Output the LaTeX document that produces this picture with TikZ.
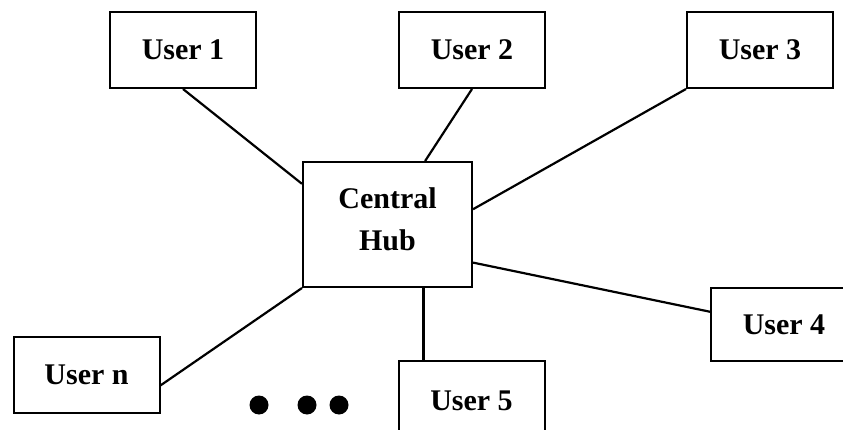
\documentclass[tikz,border=0pt]{standalone}
\usepackage{fontspec}
\setmainfont{Liberation Serif}
\usetikzlibrary{positioning, calc}

\tikzset{
  userbox/.style={draw, line width=2pt, minimum width=146pt, minimum height=76pt,
    font=\bfseries\fontsize{30}{36}\selectfont},
  hubbox/.style={draw, line width=2pt, minimum width=169pt, minimum height=125pt,
    align=center, font=\bfseries\fontsize{30}{42}\selectfont},
  link/.style={line width=2.2pt},
  ellipsisdot/.style={circle, fill=black, inner sep=0pt, minimum size=19pt}
}

\begin{document}
\begin{tikzpicture}[x=1pt, y=-1pt]

        % Page frame
        \fill[white] (0,0) rectangle (843,430);
        \clip (0,0) rectangle (843,430);

        % Central Hub
        \node[hubbox] (hub) at (387.5, 224.5) {Central\\Hub\\[-32pt]};

        % Users on top
        \node[userbox] (user1) at (183, 50) {User 1};
        \node[userbox] (user2) at (472, 50) {User 2};
        \node[userbox] (user3) at (760, 50) {User 3};

        % Users below
        \node[userbox, minimum height=73pt] (user4) at (784, 324.5) {User 4};
        \node[userbox, minimum height=80pt] (user5) at (471.5, 401) {User 5};
        \node[userbox] (usern) at (86.5, 374.5) {User n};

        % More users
        \foreach \x [count=\i] in {259, 307, 339}
          \node[ellipsisdot] (dot\i) at (\x, 405) {};

        % Links to the hub
        \draw[link] (user1.south) -- ($(hub.north west)!0.18!(hub.south west)$);
        \draw[link] (user2.south) -- ($(hub.north west)!0.72!(hub.north east)$);
        \draw[link] (user3.south west) -- ($(hub.north east)!0.38!(hub.south east)$);
        \draw[link] ($(hub.north east)!0.8!(hub.south east)$) -- ($(user4.north west)!0.33!(user4.south west)$);
        \draw[link] ($(hub.south west)!0.71!(hub.south east)$) coordinate (h5) -- (h5 |- user5.north);
        \draw[link] (hub.south west) -- ($(usern.north east)!0.64!(usern.south east)$);

    \end{tikzpicture}
\end{document}
